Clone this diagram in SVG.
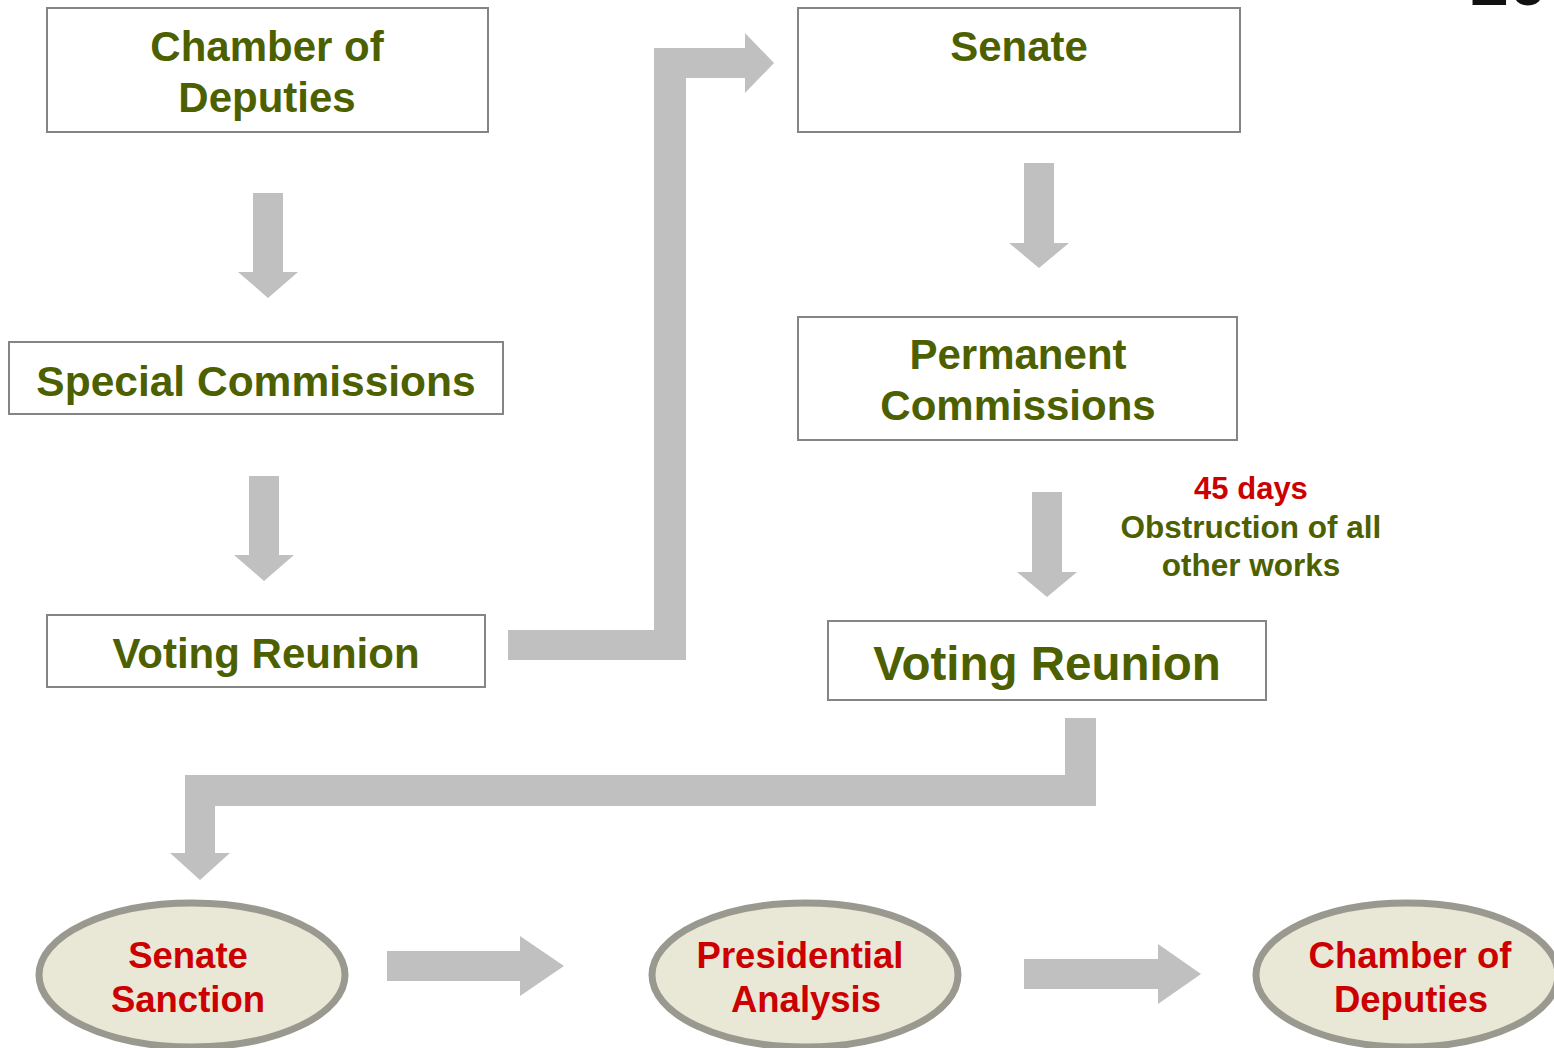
<svg xmlns="http://www.w3.org/2000/svg" width="1554" height="1048" viewBox="0 0 1554 1048">
<style>
.box{fill:#fff;stroke:#858585;stroke-width:2}
.ell{fill:#e9e8d6;stroke:#999990;stroke-width:7}
.arr{fill:#c0c0c0}
.g{font-family:"Liberation Sans",Arial,sans-serif;font-weight:bold;fill:#4d6000;text-anchor:middle}
.r{font-family:"Liberation Sans",Arial,sans-serif;font-weight:bold;fill:#cc0000;text-anchor:middle}
.num{font-family:"Liberation Sans",Arial,sans-serif;font-weight:bold;fill:#111}
</style>
<rect width="1554" height="1048" fill="#fff"/>
<text class="num" x="1468" y="5" font-size="72">10</text>

<g id="connectors">
  <polygon class="arr" points="253,193 283,193 283,272 298,272 268,298 238,272 253,272"/>
  <polygon class="arr" points="249,476 279,476 279,555 294,555 264,581 234,555 249,555"/>
  <polygon class="arr" points="1024,163 1054,163 1054,243 1069,243 1039,268 1009,243 1024,243"/>
  <polygon class="arr" points="1032,492 1062,492 1062,572 1077,572 1047,597 1017,572 1032,572"/>
  <polygon class="arr" points="508,630 654,630 654,48 745,48 745,33 774,63 745,93 745,78 686,78 686,660 508,660"/>
  <polygon class="arr" points="1065,718 1096,718 1096,806 215,806 215,853 230,853 200,880 170,853 185,853 185,775 1065,775"/>
  <polygon class="arr" points="387,951 520,951 520,936 564,966 520,996 520,981 387,981"/>
  <polygon class="arr" points="1024,959 1158,959 1158,944 1201,974 1158,1004 1158,989 1024,989"/>
</g>

<g id="chamber">
  <rect class="box" x="47" y="8" width="441" height="124"/>
  <text class="g" font-size="42" x="267" y="61">Chamber of</text>
  <text class="g" font-size="42" x="267" y="112">Deputies</text>
</g>
<g id="special">
  <rect class="box" x="9" y="342" width="494" height="72"/>
  <text class="g" font-size="42.5" x="256" y="396">Special Commissions</text>
</g>
<g id="voting1">
  <rect class="box" x="47" y="615" width="438" height="72"/>
  <text class="g" font-size="42" x="266" y="668">Voting Reunion</text>
</g>
<g id="senate">
  <rect class="box" x="798" y="8" width="442" height="124"/>
  <text class="g" font-size="42" x="1019" y="61">Senate</text>
</g>
<g id="permanent">
  <rect class="box" x="798" y="317" width="439" height="123"/>
  <text class="g" font-size="42" x="1018" y="369">Permanent</text>
  <text class="g" font-size="42" x="1018" y="420">Commissions</text>
</g>
<g id="note">
  <text class="r" font-size="31" x="1251" y="499">45 days</text>
  <text class="g" font-size="31.5" x="1251" y="538">Obstruction of all</text>
  <text class="g" font-size="31.5" x="1251" y="576">other works</text>
</g>
<g id="voting2">
  <rect class="box" x="828" y="621" width="438" height="79"/>
  <text class="g" font-size="47.5" x="1047" y="680">Voting Reunion</text>
</g>
<g id="sanction">
  <ellipse class="ell" cx="192" cy="975" rx="153" ry="72"/>
  <text class="r" font-size="36.5" x="188" y="968">Senate</text>
  <text class="r" font-size="36.5" x="188" y="1012">Sanction</text>
</g>
<g id="presidential">
  <ellipse class="ell" cx="805" cy="975" rx="153" ry="72"/>
  <text class="r" font-size="36.5" x="800" y="968">Presidential</text>
  <text class="r" font-size="36.5" x="806" y="1012">Analysis</text>
</g>
<g id="chamber2">
  <ellipse class="ell" cx="1407" cy="975" rx="151" ry="72"/>
  <text class="r" font-size="36.5" x="1410" y="968">Chamber of</text>
  <text class="r" font-size="36.5" x="1411" y="1012">Deputies</text>
</g>
</svg>
